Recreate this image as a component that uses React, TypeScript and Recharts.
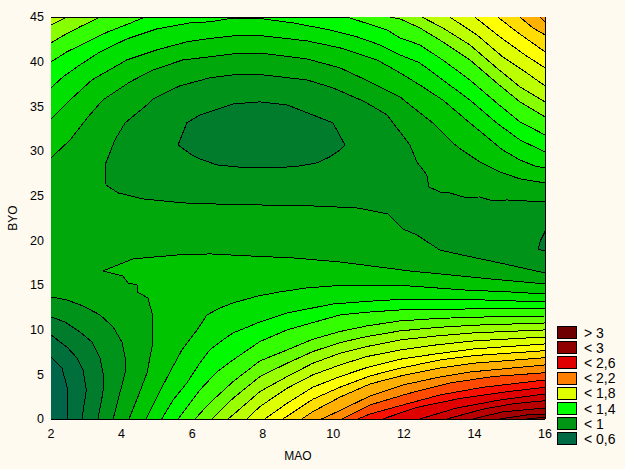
import { ScatterChart, Scatter, XAxis, YAxis, Legend } from 'recharts';

type Pt = [number, number];

const FONT = '"Liberation Sans", Arial, sans-serif';

const xTicks = [2, 3, 4, 5, 6, 7, 8, 9, 10, 11, 12, 13, 14, 15, 16];
const yTicks = [0, 2.5, 5, 7.5, 10, 12.5, 15, 17.5, 20, 22.5, 25, 27.5, 30, 32.5, 35, 37.5, 40, 42.5, 45];

const legendLabels = ['> 3', '< 3', '< 2,6', '< 2,2', '< 1,8', '< 1,4', '< 1', '< 0,6'];
const legendColors = ['#6f0000', '#900000', '#e00000', '#ff8000', '#dfff00', '#00ff00', '#009515', '#006a45'];

// contours, low side (valley, islands, lower left corner)
const valley09: Pt[] = [[16, 24.3], [14.92, 24.52], [14.52, 24.41], [14.15, 24.86], [13.78, 24.75], [13.3, 25.31], [13.08, 25.31], [12.71, 25.98], [12.65, 27.32], [12.37, 28.78], [12.17, 30.68], [11.89, 32.14], [11.52, 34.04], [10.9, 35.5], [9.99, 37.07], [9.25, 37.96], [8.01, 38.52], [7.16, 38.52], [6.5, 38.19], [5.65, 37.29], [4.89, 35.83], [4.72, 35.16], [4.1, 33.15], [3.81, 31.24], [3.59, 29], [3.53, 28.44], [3.56, 26.2], [3.9, 25.31], [4.61, 24.64], [5.74, 24.19], [6.5, 24.08], [7.92, 23.96], [9.42, 23.85], [10.67, 23.63], [11.55, 22.96], [11.97, 21.28], [12.37, 20.6], [13.02, 18.92], [13.78, 18.25], [14.72, 17.47], [16, 16.35]];
const island08: Pt[] = [[5.6, 30.68], [5.85, 33.15], [6.22, 34.04], [7.16, 35.27], [7.92, 35.5], [8.69, 35.16], [9.99, 33.15], [10.33, 30.68], [10.19, 30.12], [9.9, 29.34], [9.54, 28.67], [9.05, 28.33], [8.4, 28.11], [7.55, 28.11], [6.7, 28.44], [6.22, 29.12], [5.99, 29.56], [5.6, 30.68]];
const islet08: Pt[] = [[16, 21], [15.84, 19.7], [15.82, 19], [16, 18.8]];
const corner09: Pt[] = [[2, 13.66], [2.45, 13.33], [2.91, 12.65], [3.39, 11.65], [3.76, 10.3], [4.01, 8.62], [4.1, 6.94], [4.1, 5.15], [3.9, 2.13], [3.76, 0]];
const corner08: Pt[] = [[2, 11.42], [2.4, 10.86], [2.82, 9.74], [3.16, 8.62], [3.39, 6.83], [3.5, 4.59], [3.47, 2.91], [3.33, 0]];
const corner07: Pt[] = [[2, 9.41], [2.45, 8.06], [2.74, 6.83], [2.91, 5.49], [3, 3.25], [2.88, 0]];
const corner06: Pt[] = [[2, 6.94], [2.31, 5.71], [2.48, 3.25], [2.48, 0]];

// contours of the high side along the top
const top10: Pt[] = [[2, 29.23], [2.54, 31.24], [3.05, 33.82], [3.47, 35.72], [4.24, 37.74], [4.89, 39.08], [5.74, 40.2], [6.5, 40.54], [7.16, 40.87], [8.12, 40.87], [9.25, 40.31], [10.19, 39.31], [11.04, 37.74], [11.89, 36.06], [12.17, 35.16], [12.82, 33.15], [13.39, 30.91], [13.64, 30.12], [14.15, 28.78], [14.72, 27.66], [15.29, 26.88], [16, 26.43]];
const top11: Pt[] = [[2, 33.59], [2.45, 35.39], [3.16, 37.96], [4.15, 40.2], [5, 41.32], [5.85, 42.22], [6.5, 42.6], [7.16, 42.89], [8.01, 42.89], [9.25, 42.33], [10.19, 41.55], [11.24, 40.2], [11.89, 38.75], [12.45, 37.4], [13.1, 35.72], [13.87, 33.15], [14.8, 30.12], [15.29, 29], [15.71, 28.33], [16, 28.11]];
const top12: Pt[] = [[2, 37.07], [2.34, 38.3], [2.82, 39.64], [3.39, 41.1], [4.15, 42.55], [5, 43.67], [5.94, 44.34], [6.5, 44.46], [7.01, 44.79], [8.01, 44.79], [8.86, 44.34], [9.9, 43.56], [10.67, 42.78], [11.32, 41.88], [11.89, 40.76], [12.45, 39.87], [13.1, 37.96], [13.87, 35.72], [14.63, 33.15], [15.29, 31.24], [16, 29.9]];
const topLeft13: Pt[] = [[2, 39.98], [2.45, 41.1], [3.02, 42.2], [3.59, 43.3], [4.24, 44.3], [4.66, 45]];
const topLeft14: Pt[] = [[2, 42.1], [2.34, 42.9], [2.82, 43.9], [3.39, 45]];
const topLeft15: Pt[] = [[2, 44.12], [2.45, 45]];
const topRight13: Pt[] = [[10.39, 45], [11.52, 43.56], [11.89, 42.66], [12.45, 41.88], [13.1, 40.2], [13.87, 37.96], [14.63, 35.39], [15.29, 33.26], [16, 31.8]];
const topRight14: Pt[] = [[11.6, 45], [11.89, 44.79], [12.45, 43.79], [13.1, 42.22], [13.87, 40.2], [14.63, 37.63], [15.29, 35.5], [16, 33.82]];
const topRight15: Pt[] = [[12.51, 45], [13.1, 43.79], [13.87, 41.88], [14.63, 39.31], [15.29, 37.18], [16, 35.5]];
const topRight16: Pt[] = [[13.3, 45], [14.07, 43], [14.8, 40.54], [15.48, 38.75], [16, 37.29]];
const topRight17: Pt[] = [[14.01, 45], [14.72, 42.78], [15.43, 40.76], [16, 39.31]];
const topRight18: Pt[] = [[14.66, 45], [15.2, 43.34], [16, 41.1]];
const topRight19: Pt[] = [[15.29, 45], [15.65, 43.79], [16, 43]];
const topRight20: Pt[] = [[15.85, 45], [16, 44.46]];

// contours of the high side in the lower right
const low10: Pt[] = [[4.21, 0], [4.46, 2.46], [4.72, 5.15], [4.89, 8.62], [4.89, 11.42], [4.75, 13.55], [4.44, 14.22], [4.44, 15], [4.18, 15.23], [4.04, 16.01], [3.47, 16.57], [4.32, 17.92], [4.95, 18.14], [5.57, 18.36], [6.5, 18.48], [7.64, 18.25], [8.86, 18.03], [10.19, 17.58], [12.17, 16.57], [13.02, 16.24], [14.44, 15.68], [16, 15.12]];
const low11: Pt[] = [[4.69, 0], [5, 2.46], [5.37, 5.26], [5.71, 7.73], [6.14, 9.97], [6.42, 11.65], [6.79, 12.43], [7.16, 12.99], [7.86, 13.77], [8.48, 14.22], [9.24, 14.67], [9.97, 14.89], [12.17, 14.89], [12.93, 14.67], [13.67, 14.45], [15, 14.22], [16, 14]];
const low12: Pt[] = [[5.14, 0], [5.46, 2.13], [5.85, 4.03], [6.22, 6.27], [6.5, 7.73], [6.79, 8.62], [7.16, 9.63], [7.92, 10.86], [8.69, 11.87], [9.42, 12.43], [9.99, 12.88], [11.12, 13.21], [11.89, 13.38], [14.23, 13.33], [16, 13.1]];
const low13: Pt[] = [[5.6, 0], [5.94, 1.79], [6.22, 3.25], [6.7, 5.26], [7.16, 6.61], [7.92, 8.67], [8.69, 9.97], [9.42, 10.79], [10.19, 11.65], [10.95, 11.95], [11.89, 12.21], [12.93, 12.3], [14.2, 12.32], [16, 12.32]];
const low14: Pt[] = [[6.08, 0], [6.5, 1.79], [7.16, 4.19], [7.92, 6.5], [8.69, 7.73], [9.42, 8.93], [10.19, 9.79], [10.95, 10.42], [11.89, 10.98], [12.93, 11.25], [14, 11.4], [16, 11.53]];
const low15: Pt[] = [[6.56, 0], [7.16, 2.32], [7.92, 4.75], [8.69, 6.24], [9.42, 7.55], [10.19, 8.55], [10.95, 9.23], [11.89, 9.86], [12.93, 10.25], [14, 10.5], [16, 10.75]];
const low16: Pt[] = [[7.01, 0], [7.16, 0.46], [7.92, 3.07], [8.69, 4.75], [9.42, 6.24], [10.19, 7.36], [10.95, 8.11], [11.89, 8.85], [12.93, 9.3], [14, 9.65], [16, 9.97]];
const low17: Pt[] = [[7.55, 0], [7.92, 1.39], [8.69, 3.44], [9.42, 4.94], [10.19, 6.05], [10.95, 6.99], [11.89, 7.73], [12.93, 8.3], [14, 8.75], [16, 9.18]];
const low18: Pt[] = [[8.06, 0], [8.69, 1.76], [9.42, 3.56], [10.19, 4.75], [10.95, 5.76], [11.89, 6.69], [12.93, 7.3], [14, 7.85], [16, 8.4]];
const low19: Pt[] = [[8.57, 0], [9.42, 2.21], [10.19, 3.56], [11.04, 4.82], [11.89, 5.68], [13.02, 6.61], [14, 7.1], [16, 7.65]];
const low20: Pt[] = [[9.11, 0], [9.42, 0.83], [10.19, 2.45], [11.04, 3.92], [11.89, 4.8], [13.02, 5.71], [14, 6.25], [16, 6.86]];
const low21: Pt[] = [[9.67, 0], [10.19, 0.95], [11.04, 2.58], [11.97, 3.81], [13.02, 4.7], [13.87, 5.26], [16, 6.05]];
const low22: Pt[] = [[10.24, 0], [11.04, 1.57], [12.08, 2.8], [13.3, 4.03], [14.52, 4.75], [16, 5.18]];
const low23: Pt[] = [[10.7, 0], [11.04, 0.56], [11.97, 1.57], [13.02, 2.69], [14.24, 3.55], [16, 4.37]];
const low24: Pt[] = [[11.4, 0], [12.37, 1.3], [13.59, 2.3], [14.92, 3.05], [16, 3.55]];
const low25: Pt[] = [[12.45, 0], [13.5, 1.23], [14.72, 2.13], [16, 2.8]];
const low26: Pt[] = [[13.22, 0], [14.24, 1.1], [15.09, 1.7], [16, 2.05]];
const low27: Pt[] = [[13.95, 0], [14.8, 0.8], [16, 1.23]];
const low28: Pt[] = [[14.72, 0], [15.48, 0.45], [16, 0.56]];
const low29: Pt[] = [[15.48, 0], [16, 0.2]];

const plotCorners: Pt[] = [[2, 0], [2, 45], [16, 45], [16, 0]];
const TL: Pt = [2, 45];
const TR: Pt = [16, 45];
const BL: Pt = [2, 0];
const BR: Pt = [16, 0];

// one colour per band, named by the contour under it
const band = {
  b06: '#00664a', b07: '#006f3c', b08: '#007c2c', b09: '#00931a', b095: '#00a80c',
  b10: '#00c400', b11: '#00e000', b12: '#00fa00', b13: '#33ff00', b14: '#66ff00', b145: '#88ff00', b15: '#99ff00',
  b16: '#bbff00', b17: '#ddff00', b18: '#ffff00', b19: '#ffdd00', b20: '#ffb000', b21: '#ff8c00',
  b22: '#ff4a00', b23: '#f81000', b24: '#e00000', b25: '#cc0000', b26: '#b80000', b27: '#a40000',
  b28: '#900000', b29: '#7c0000',
};

const regions: { pts: Pt[]; fill: string }[] = [
  { pts: plotCorners, fill: band.b095 },
  { pts: valley09, fill: band.b09 },
  { pts: island08, fill: band.b08 },
  { pts: islet08, fill: band.b08 },
  { pts: [...corner09, BL], fill: band.b09 },
  { pts: [...corner08, BL], fill: band.b08 },
  { pts: [...corner07, BL], fill: band.b07 },
  { pts: [...corner06, BL], fill: band.b06 },
  { pts: [...top10, TR, TL], fill: band.b10 },
  { pts: [...low10, BR], fill: band.b10 },
  { pts: [...top11, TR, TL], fill: band.b11 },
  { pts: [...low11, BR], fill: band.b11 },
  { pts: [...top12, TR, TL], fill: band.b12 },
  { pts: [...low12, BR], fill: band.b12 },
  { pts: [...topLeft13, TL], fill: band.b13 },
  { pts: [...topRight13, TR], fill: band.b13 },
  { pts: [...low13, BR], fill: band.b13 },
  { pts: [...topLeft14, TL], fill: band.b145 },
  { pts: [...topRight14, TR], fill: band.b145 },
  { pts: [...low14, BR], fill: band.b14 },
  { pts: [...topLeft15, TL], fill: band.b16 },
  { pts: [...topRight15, TR], fill: band.b16 },
  { pts: [...low15, BR], fill: band.b15 },
  { pts: [...topRight16, TR], fill: band.b17 },
  { pts: [...low16, BR], fill: band.b16 },
  { pts: [...topRight17, TR], fill: band.b18 },
  { pts: [...low17, BR], fill: band.b17 },
  { pts: [...topRight18, TR], fill: band.b19 },
  { pts: [...low18, BR], fill: band.b18 },
  { pts: [...topRight19, TR], fill: band.b20 },
  { pts: [...low19, BR], fill: band.b19 },
  { pts: [...topRight20, TR], fill: band.b21 },
  { pts: [...low20, BR], fill: band.b20 },
  { pts: [...low21, BR], fill: band.b21 },
  { pts: [...low22, BR], fill: band.b22 },
  { pts: [...low23, BR], fill: band.b23 },
  { pts: [...low24, BR], fill: band.b24 },
  { pts: [...low25, BR], fill: band.b25 },
  { pts: [...low26, BR], fill: band.b26 },
  { pts: [...low27, BR], fill: band.b27 },
  { pts: [...low28, BR], fill: band.b28 },
  { pts: [...low29, BR], fill: band.b29 },
];

const tickStyle = { fontSize: 12.5, fontFamily: FONT, fill: '#000' };
const labelStyle = { fontSize: 12, fontFamily: FONT, fill: '#000' };

const LegendBox = () => (
  <div style={{ fontFamily: FONT, fontSize: 14 }}>
    {legendLabels.map((label, i) => (
      <div key={label} style={{ display: 'flex', alignItems: 'center', height: 15.2 }}>
        <div style={{ width: 18, height: 11, border: '1px solid #000', background: legendColors[i] }} />
        <span style={{ marginLeft: 7, color: '#000' }}>{label}</span>
      </div>
    ))}
  </div>
);

export default function App() {
  return (
    <div style={{ position: 'absolute', left: 0, top: 0, width: 625, height: 469, background: '#fffaf0', shapeRendering: 'crispEdges' }}>
      <ScatterChart width={625} height={469} margin={{ top: 0, right: 0, bottom: 0, left: 0 }}>
        {regions.map((r, i) => (
          <Scatter
            key={i}
            data={r.pts.map(([x, y]) => ({ x, y }))}
            isAnimationActive={false}
            shape={() => null}
            line={{ fill: r.fill, stroke: i === 0 ? 'none' : '#000', strokeWidth: 1 }}
          />
        ))}
        <XAxis
          dataKey="x"
          type="number"
          domain={[2, 16]}
          ticks={xTicks}
          interval={0}
          height={50}
          tickSize={-2}
          tickMargin={12}
          tick={tickStyle}
          tickFormatter={(v: number) => (v % 2 === 0 ? String(v) : '')}
          axisLine={{ stroke: '#000' }}
          tickLine={{ stroke: '#000' }}
          label={{ value: 'MAO', position: 'insideBottom', offset: 9, style: labelStyle }}
        />
        <XAxis xAxisId="top" orientation="top" type="number" domain={[2, 16]} ticks={xTicks} interval={0} height={17} tickSize={-2} tick={false} axisLine={{ stroke: '#000' }} tickLine={{ stroke: '#000' }} />
        <YAxis
          dataKey="y"
          type="number"
          domain={[0, 45]}
          ticks={yTicks}
          interval={0}
          width={51}
          tickSize={-2}
          tickMargin={9}
          tick={tickStyle}
          tickFormatter={(v: number) => (v % 5 === 0 ? String(v) : '')}
          axisLine={{ stroke: '#000' }}
          tickLine={{ stroke: '#000' }}
          label={{ value: 'BYO', angle: -90, position: 'insideLeft', offset: 13, style: { ...labelStyle, textAnchor: 'middle' } }}
        />
        <YAxis yAxisId="right" orientation="right" type="number" domain={[0, 45]} ticks={yTicks} interval={0} width={80} tickSize={-2} tick={false} axisLine={{ stroke: '#000' }} tickLine={{ stroke: '#000' }} />
        <Legend layout="horizontal" verticalAlign="middle" content={<LegendBox />} wrapperStyle={{ left: 557, top: 325, width: 68, height: 125, bottom: 'auto', right: 'auto' }} />
      </ScatterChart>
    </div>
  );
}
